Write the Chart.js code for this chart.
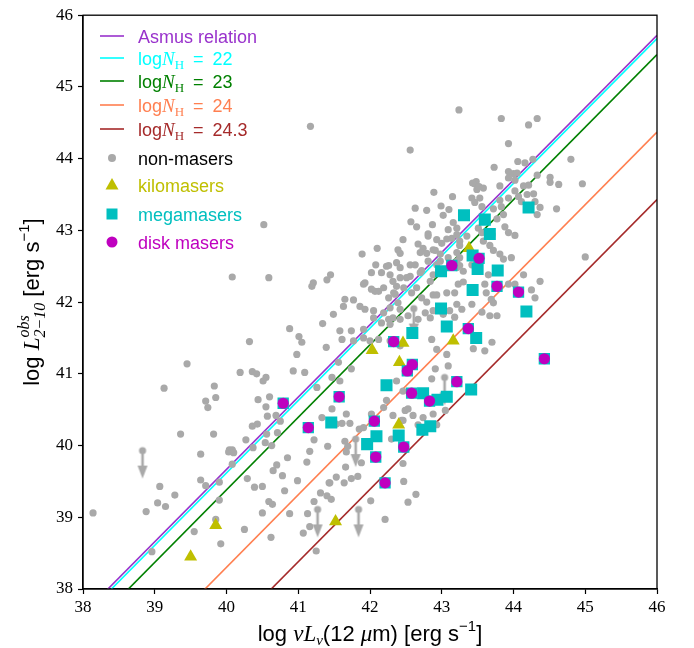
<!DOCTYPE html>
<html>
<head>
<meta charset="utf-8">
<script src="https://cdn.jsdelivr.net/npm/chart.js@4.4.0/dist/chart.umd.min.js"></script>
<style>
  body { margin: 0; background: #fff; }
</style>
</head>
<body>
<canvas id="myChart" width="694" height="648"></canvas>
<script>
// relation lines: y at x = 38 and x = 46
var relationX = [38, 46];
var asmusY = [37.65, 45.72];
var nh22Y = [37.60, 45.675];
var nh23Y = [37.36, 45.45];
var nh24Y = [36.28, 44.37];
var nh243Y = [35.35, 43.43];

var tickValues = [38, 39, 40, 41, 42, 43, 44, 45, 46];

// non-masers (log L12, log L2-10)
var nonMasers = [
  [40.52,43.08],[41.17,44.45],[43.24,44.68],[42.56,44.12],
  [40.08,42.35],[40.59,42.34],[40.32,41.45],[39.45,41.14],[40.19,41.02],[40.36,41.03],[40.42,41.00],[40.55,40.95],
  [39.13,40.80],[39.83,40.83],[39.71,40.62],[39.85,40.67],[39.74,40.53],[40.44,40.64],[40.60,40.68],[40.55,40.54],
  [40.57,40.41],[40.69,40.42],[40.36,40.27],[40.43,40.30],[40.75,40.34],[40.71,40.18],[39.36,40.16],[39.82,40.16],
  [40.27,40.08],[40.54,40.04],[40.63,40.00],[40.04,39.94],[40.37,39.97],
  [39.64,39.88],[40.03,39.91],[40.08,39.94],[40.10,39.90],[40.08,39.74],[40.85,39.83],[41.22,40.08],[41.16,39.92],
  [41.12,39.77],[41.41,39.99],[40.70,39.73],[40.65,39.65],[40.78,39.58],[40.99,39.51],[41.43,39.48],[40.29,39.54],
  [39.64,39.52],[39.71,39.44],[39.90,39.49],[39.07,39.43],[39.28,39.31],[40.39,39.42],[40.50,39.43],[40.81,39.37],
  [39.90,39.24],[39.04,39.20],[39.15,39.15],[38.88,39.08],[38.14,39.06],[40.59,39.22],[40.64,39.18],[40.50,39.06],
  [40.88,39.05],[41.31,39.34],[41.40,39.30],[41.46,39.25],[41.22,39.22],[41.13,39.05],[41.16,38.87],[41.07,38.78],
  [39.85,38.97],[39.55,38.80],[39.92,38.63],[40.25,38.83],[40.62,38.72],[38.96,38.52],[41.25,38.53],
  [41.49,41.83],[41.34,41.70],[41.39,41.37],[40.88,41.63],[41.01,41.52],[41.05,41.44],[40.98,41.27],
  [41.58,41.60],[41.61,41.48],[41.74,41.60],[41.77,41.46],[41.91,41.62],[41.91,41.50],[42.00,41.46],[42.12,41.48],
  [42.28,41.46],[42.42,41.39],[42.86,41.48],[42.93,41.34],[42.91,41.07],[42.86,40.93],[43.07,41.27],[43.09,41.11],
  [41.56,41.16],[41.74,41.07],[41.47,40.95],[41.58,40.90],[41.33,40.39],[41.47,40.51],[41.67,40.44],
  [42.02,40.44],[42.19,40.53],[42.23,40.63],[42.37,40.90],[42.46,40.76],[42.49,40.49],[42.53,40.51],[42.32,40.42],
  [42.44,40.35],[42.60,40.42],[42.74,40.39],[42.88,40.44],[43.05,40.49],
  [40.56,40.16],[40.51,40.90],[40.93,41.04],[41.09,41.02],[41.26,40.81],
  [41.65,40.06],[41.69,39.99],[41.67,39.91],[41.66,39.70],[41.88,39.76],[41.53,39.56],[41.44,39.48],[41.64,39.48],
  [41.74,39.54],[41.83,39.57],[42.01,39.23],[42.21,38.97],[42.46,39.75],[42.47,39.50],[42.64,39.32],[42.53,39.21],
  [41.53,40.30],[41.61,40.31],[41.72,40.31],[41.85,40.23],[41.91,40.25],[42.46,40.35],[42.67,40.29],[42.93,40.29],
  [42.30,40.09],
  [42.89,43.53],[43.15,43.47],[43.46,43.65],[43.49,43.57],[42.63,43.31],[42.79,43.28],[42.99,43.34],[43.10,43.29],
  [43.02,43.21],[42.57,43.12],[42.65,43.05],[42.87,43.08],[42.81,42.95],[43.09,43.01],
  [42.46,42.87],[42.67,42.81],[42.93,42.87],[43.00,42.82],[43.14,42.89],[43.21,42.94],[43.25,42.85],[43.35,42.92],
  [42.10,42.75],[41.89,42.67],[42.39,42.73],[42.42,42.68],[42.74,42.75],[42.79,42.68],[42.88,42.73],
  [42.08,42.52],[42.23,42.50],[42.37,42.55],[42.42,42.48],[42.56,42.52],[42.63,42.52],[42.81,42.57],[42.93,42.52],
  [43.09,42.62],[43.25,42.62],[43.42,42.52],
  [42.02,42.41],[42.16,42.41],[42.28,42.38],[42.42,42.34],[42.56,42.36],[42.70,42.41],[42.88,42.38],[43.21,42.48],
  [43.30,42.43],
  [41.21,42.27],[41.19,42.22],[41.40,42.31],[41.45,42.38],[41.93,42.27],[42.07,42.15],[42.19,42.20],[42.26,42.06],
  [42.33,42.13],[42.47,42.20],[42.58,42.13],[42.72,42.06],[42.88,42.10],[43.07,42.13],[41.65,42.04],[41.77,42.03],
  [41.63,41.94],[41.86,41.94],[41.93,41.90],[42.05,41.88],[42.19,41.85],[42.28,41.92],[42.42,41.90],[42.32,41.78],
  [42.42,41.76],[42.26,41.76],[42.28,41.69],[42.16,41.71],[42.05,41.78],[42.53,41.81],[42.67,41.76],[42.77,41.85],
  [42.84,41.78],[42.88,41.88],[42.98,41.92],[43.02,41.83],[43.11,41.88],[43.21,41.97],[42.39,41.99],
  [42.81,42.92],[43.07,42.88],[42.91,42.72],[42.70,42.69],[42.98,42.67],[42.26,42.51],[42.51,42.34],[42.72,42.44],
  [42.98,42.57],[43.21,42.57],[42.32,42.29],[42.37,42.22],[42.35,42.11],[42.65,42.20],[42.84,42.29],[43.18,42.13],
  [43.23,42.25],[42.93,42.10],[42.79,42.00],[41.91,42.25],[42.02,42.18],[42.12,42.15],
  [43.83,44.56],[44.33,44.56],[44.21,44.47],[43.93,44.21],[44.06,43.96],[44.16,43.94],[44.27,43.99],[44.80,43.99],
  [43.73,43.88],[43.93,43.82],[44.00,43.79],[44.05,43.80],[44.33,43.77],
  [43.48,43.68],[43.43,43.66],[43.52,43.61],[43.58,43.59],[43.81,43.62],[43.93,43.73],[44.02,43.70],[44.14,43.62],
  [44.21,43.63],[44.51,43.74],[44.51,43.67],[44.63,43.64],[44.96,43.65],
  [43.42,43.45],[43.53,43.45],[43.46,43.39],[43.56,43.33],[43.81,43.42],[43.93,43.45],[44.02,43.55],[44.07,43.47],
  [44.19,43.50],[44.28,43.51],[44.11,43.40],[44.30,43.40],[44.37,43.32],[44.60,43.30],[44.33,43.22],
  [43.72,43.30],[43.83,43.33],[43.86,43.22],[43.77,43.16],[43.88,43.05],[44.02,42.93],[43.93,42.97],
  [43.51,43.03],[43.56,42.97],[43.70,42.94],[43.58,42.85],[43.67,42.79],[43.72,42.72],[43.81,42.67],[43.86,42.60],
  [43.97,42.62],
  [43.16,43.11],[43.21,43.03],[43.25,42.79],[43.21,42.69],[43.25,42.51],[43.30,42.28],[43.60,42.25],[43.62,42.13],
  [43.65,42.38],[44.14,42.38],[44.25,42.17],[44.30,42.06],[44.37,42.29],[43.72,41.99],[43.77,41.81],[43.67,41.81],
  [43.56,41.86],[43.42,41.97],[43.28,41.90],[43.18,41.79],[43.70,41.44],[43.44,41.35],[43.60,41.32],[45.00,42.63],
  [43.69,42.04],[43.93,42.25],[44.02,42.25]
];

// upper limits (drawn as arrows)
var upperLimits = [[38.83,39.93],[41.27,39.11],[41.84,39.11],[41.80,40.09],[42.61,41.91],[43.04,40.95]];

var kilomasers = [
  [39.50,38.45],[39.85,38.89],[41.52,38.94],[42.03,41.33],[42.46,41.43],[42.41,41.16],[42.40,40.29],[43.16,41.46],[43.38,42.75]
];

var megamasers = [
  [42.99,41.91],[43.07,41.66],[42.59,41.57],[42.23,40.84],[42.74,40.73],[42.94,40.64],[43.07,40.68],[41.46,40.32],
  [42.09,40.13],[41.96,40.02],[42.40,40.14],[42.73,40.22],[42.84,40.27],
  [43.31,43.21],[43.60,43.15],[43.67,42.95],[44.21,43.32],[43.43,42.65],[43.50,42.46],[43.78,42.44],[43.43,42.17],
  [44.18,41.87],[43.48,41.50],[42.99,42.43],[43.41,40.78]
];

var diskMasers = [
  [40.79,40.59],[41.14,40.25],[41.57,40.68],[42.33,41.45],[42.59,41.13],[42.52,41.04],[42.58,40.73],[42.83,40.62],
  [42.06,40.34],[42.08,39.84],[42.47,39.98],[42.21,39.48],[43.52,42.61],[43.14,42.51],[43.77,42.22],[44.07,42.14],
  [43.37,41.63],[44.43,41.21],[43.21,40.89]
];

function toPoints(list) {
  return list.map(function (p) { return { x: p[0], y: p[1] }; });
}
function linePoints(ys) {
  return relationX.map(function (x, i) { return { x: x, y: ys[i] }; });
}

// arrow marker for upper limits
function makeArrow() {
  var c = document.createElement('canvas');
  c.width = 14; c.height = 64;
  var g = c.getContext('2d');
  g.fillStyle = '#a9a9a9';
  g.strokeStyle = '#a9a9a9';
  g.beginPath(); g.arc(7, 32, 3.6, 0, 2 * Math.PI); g.fill();
  g.lineWidth = 2.6;
  g.beginPath(); g.moveTo(7, 32); g.lineTo(7, 50); g.stroke();
  g.beginPath(); g.moveTo(2, 47); g.lineTo(12, 47); g.lineTo(7, 60); g.closePath(); g.fill();
  return c;
}

var SANS = '"Liberation Sans", Arial, sans-serif';
var SERIF = '"Liberation Serif", "DejaVu Serif", serif';

function drawParts(ctx, parts, x, y) {
  parts.forEach(function (p) {
    if (p.sup !== undefined) {
      ctx.font = p.font;
      ctx.fillText(p.sup, x, y + p.supDy);
      ctx.fillText(p.sub, x, y + p.subDy);
      x += Math.max(ctx.measureText(p.sup).width, ctx.measureText(p.sub).width);
      return;
    }
    ctx.font = p.font;
    ctx.fillText(p.t, x, y + (p.dy || 0));
    x += ctx.measureText(p.t).width;
  });
  return x;
}
function partsWidth(ctx, parts) {
  var w = 0;
  parts.forEach(function (p) {
    ctx.font = p.font;
    if (p.sup !== undefined) {
      w += Math.max(ctx.measureText(p.sup).width, ctx.measureText(p.sub).width);
    } else {
      w += ctx.measureText(p.t).width;
    }
  });
  return w;
}

function nhLabel(val) {
  return [
    { t: 'log', font: '18px ' + SANS },
    { t: 'N', font: 'italic 19px ' + SERIF },
    { t: 'H', font: '13px ' + SERIF, dy: 4 },
    { t: '\u2002=\u2002' + val, font: '18px ' + SANS }
  ];
}

var legendRows = [
  { kind: 'line', color: '#9932CC', parts: [{ t: 'Asmus relation', font: '18px ' + SANS }] },
  { kind: 'line', color: '#00FFFF', parts: nhLabel('22') },
  { kind: 'line', color: '#008000', parts: nhLabel('23') },
  { kind: 'line', color: '#FF7F50', parts: nhLabel('24') },
  { kind: 'line', color: '#A52A2A', parts: nhLabel('24.3') },
  { kind: 'circle', color: '#A9A9A9', text: '#000', r: 4, parts: [{ t: 'non-masers', font: '18px ' + SANS }] },
  { kind: 'triangle', color: '#BFBF00', parts: [{ t: 'kilomasers', font: '18px ' + SANS }] },
  { kind: 'rect', color: '#00BFBF', parts: [{ t: 'megamasers', font: '18px ' + SANS }] },
  { kind: 'circle', color: '#BF00BF', r: 5.5, parts: [{ t: 'disk masers', font: '18px ' + SANS }] }
];
var legendY = [36, 58, 81, 105, 129, 158, 185, 214, 242];

var decorPlugin = {
  id: 'decor',
  afterDraw: function (chart) {
    var ctx = chart.ctx;
    var a = chart.chartArea;
    ctx.save();
    // full frame
    ctx.strokeStyle = '#000';
    ctx.lineWidth = 1.3;
    ctx.strokeRect(a.left, a.top, a.right - a.left, a.bottom - a.top);

    // legend
    ctx.textBaseline = 'alphabetic';
    legendRows.forEach(function (row, i) {
      var y = legendY[i];
      ctx.fillStyle = row.color;
      ctx.strokeStyle = row.color;
      if (row.kind === 'line') {
        ctx.lineWidth = 1.6;
        ctx.beginPath(); ctx.moveTo(100, y); ctx.lineTo(124, y); ctx.stroke();
      } else if (row.kind === 'circle') {
        ctx.beginPath(); ctx.arc(112, y, row.r, 0, 2 * Math.PI); ctx.fill();
      } else if (row.kind === 'triangle') {
        ctx.beginPath(); ctx.moveTo(112, y - 7); ctx.lineTo(118.5, y + 4.5); ctx.lineTo(105.5, y + 4.5); ctx.closePath(); ctx.fill();
      } else {
        ctx.fillRect(106.5, y - 5.5, 11, 11);
      }
      ctx.fillStyle = row.text || row.color;
      drawParts(ctx, row.parts, 138, y + 6.5);
    });

    // axis titles
    ctx.fillStyle = '#000';
    var xt = [
      { t: 'log ', font: '22px ' + SANS },
      { t: '\u03BD', font: 'italic 23px ' + SERIF },
      { t: 'L', font: 'italic 23px ' + SERIF },
      { t: '\u03BD', font: 'italic 15px ' + SERIF, dy: 4 },
      { t: '(12 ', font: '22px ' + SANS },
      { t: '\u03BC', font: 'italic 23px ' + SERIF },
      { t: 'm) [erg s', font: '22px ' + SANS },
      { t: '\u22121', font: '15px ' + SANS, dy: -10 },
      { t: ']', font: '22px ' + SANS }
    ];
    var xc = (a.left + a.right) / 2;
    drawParts(ctx, xt, xc - partsWidth(ctx, xt) / 2, 641);

    var yt = [
      { t: 'log ', font: '22px ' + SANS },
      { t: 'L', font: 'italic 23px ' + SERIF },
      { sup: 'obs', sub: '2\u221210', font: 'italic 16px ' + SERIF, supDy: -10, subDy: 6 },
      { t: ' [erg s', font: '22px ' + SANS },
      { t: '\u22121', font: '15px ' + SANS, dy: -10 },
      { t: ']', font: '22px ' + SANS }
    ];
    ctx.translate(39, (a.top + a.bottom) / 2);
    ctx.rotate(-Math.PI / 2);
    drawParts(ctx, yt, -partsWidth(ctx, yt) / 2, 0);
    ctx.restore();
  }
};

function lineSet(ys, color) {
  return {
    data: linePoints(ys),
    showLine: true,
    borderColor: color,
    borderWidth: 1.6,
    pointRadius: 0,
    fill: false,
    order: 10
  };
}

var ctx = document.getElementById('myChart').getContext('2d');

var myChart = new Chart(ctx, {
  type: 'scatter',
  data: {
    datasets: [
      { data: toPoints(diskMasers), pointStyle: 'circle', pointRadius: 5.6, backgroundColor: '#BF00BF', borderWidth: 0, order: 1 },
      { data: toPoints(diskMasers), pointStyle: 'rect', pointRadius: 8, backgroundColor: '#00BFBF', borderWidth: 0, order: 2 },
      { data: toPoints(megamasers), pointStyle: 'rect', pointRadius: 8.5, backgroundColor: '#00BFBF', borderWidth: 0, order: 3 },
      { data: toPoints(kilomasers), pointStyle: 'triangle', pointRadius: 7.5, backgroundColor: '#BFBF00', borderWidth: 0, order: 4 },
      { data: toPoints(upperLimits), pointStyle: makeArrow(), pointRadius: 4, order: 5 },
      { data: toPoints(nonMasers), pointStyle: 'circle', pointRadius: 3.6, backgroundColor: '#A9A9A9', borderWidth: 0, order: 6 },
      lineSet(asmusY, '#9932CC'),
      lineSet(nh22Y, '#00FFFF'),
      lineSet(nh23Y, '#008000'),
      lineSet(nh24Y, '#FF7F50'),
      lineSet(nh243Y, '#A52A2A')
    ]
  },
  options: {
    responsive: false,
    animation: false,
    devicePixelRatio: 1,
    layout: { padding: { top: 13, right: 37, left: 0, bottom: 0 } },
    plugins: { legend: { display: false }, tooltip: { enabled: false } },
    scales: {
      x: {
        type: 'linear', min: 38, max: 46,
        afterBuildTicks: function (s) { s.ticks = tickValues.map(function (v) { return { value: v }; }); },
        ticks: { color: '#000', font: { family: SERIF, size: 17 }, padding: 3, maxRotation: 0 },
        grid: { drawOnChartArea: false, drawTicks: true, tickLength: 5, tickColor: '#000', tickWidth: 1.2 },
        border: { display: true, color: '#000', width: 1.3 },
        afterFit: function (s) { s.height = 59; }
      },
      y: {
        type: 'linear', min: 38, max: 46,
        afterBuildTicks: function (s) { s.ticks = tickValues.map(function (v) { return { value: v }; }); },
        ticks: { color: '#000', font: { family: SERIF, size: 17 }, padding: 5 },
        grid: { drawOnChartArea: false, drawTicks: true, tickLength: 5, tickColor: '#000', tickWidth: 1.2 },
        border: { display: true, color: '#000', width: 1.3 },
        afterFit: function (s) { s.width = 83; }
      }
    }
  },
  plugins: [decorPlugin]
});
</script>
</body>
</html>
